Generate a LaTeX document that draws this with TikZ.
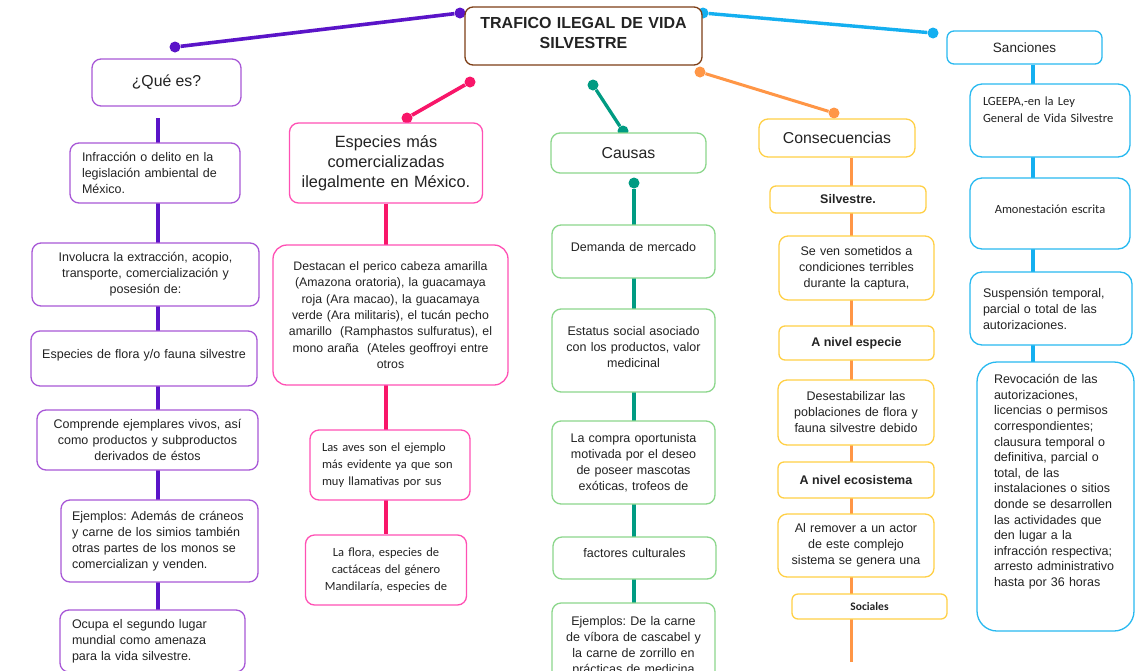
\documentclass[tikz,border=0pt]{standalone}
\usepackage{fontspec}
\setmainfont{Liberation Sans}
\newfontfamily\calib{Carlito}
\usetikzlibrary{backgrounds}
\frenchspacing
\definecolor{ink}{RGB}{35,35,35}
\definecolor{tbrown}{RGB}{125,62,22}
\definecolor{qline}{RGB}{90,20,200}
\definecolor{qborder}{RGB}{168,88,215}
\definecolor{pline}{RGB}{248,22,105}
\definecolor{pborder}{RGB}{255,80,180}
\definecolor{tline}{RGB}{0,155,130}
\definecolor{tborder}{RGB}{140,215,140}
\definecolor{oline}{RGB}{255,150,70}
\definecolor{oborder}{RGB}{255,208,70}
\definecolor{bline}{RGB}{20,175,240}
\definecolor{bborder}{RGB}{40,185,240}
\newcommand{\bodyfont}{\fontsize{12.5}{16}\selectfont}
\newcommand{\headfont}{\fontsize{15.8}{20}\selectfont}
\newcommand{\califont}{\calib\fontsize{12.5}{17}\selectfont}
\newcommand{\lift}[1]{\rule[-#1]{0pt}{#1}}
\tikzset{
    common/.style={draw, rounded corners=9pt, fill=white, line width=1.3pt, inner sep=0pt, align=center, text=ink, font=\bodyfont},
    qbox/.style={common, draw=qborder},
    pbox/.style={common, draw=pborder},
    tbox/.style={common, draw=tborder},
    obox/.style={common, draw=oborder},
    bbox/.style={common, draw=bborder},
    head/.style={font=\headfont},
    boldhead/.style={font=\bodyfont\bfseries},
    cali/.style={font=\califont},
    dot/.style={circle, fill, inner sep=0pt, minimum size=11pt},
    link/.style={line width=3.6pt},
}

\begin{document}
\begin{tikzpicture}[x=1pt, y=-1pt]
    \useasboundingbox (0,0) rectangle (1140,670);

    % title
    \node[common, draw=tbrown, rounded corners=8pt, minimum width=237pt, minimum height=58pt, text width=225pt,
          font=\fontsize{16}{20}\selectfont\bfseries] (title) at (583.5,36)
        {TRAFICO ILEGAL DE VIDA\\SILVESTRE\lift{7pt}};

    % que es
    \node[qbox, head, minimum width=149pt, minimum height=47pt] (qe) at (166.5,82.5) {¿Qué es?};
    \node[qbox, minimum width=170pt, minimum height=60pt, text width=146pt, align=left] (q1) at (155,173)
        {Infracción o delito en la\\legislación ambiental de\\México.};
    \node[qbox, minimum width=227pt, minimum height=63pt, text width=215pt] (q2) at (145.5,274.5)
        {Involucra la extracción, acopio,\\transporte, comercialización y\\posesión de:};
    \node[qbox, minimum width=226pt, minimum height=55pt, text width=215pt] (q3) at (144,358.5)
        {Especies de flora y/o fauna silvestre\lift{9pt}};
    \node[qbox, minimum width=221pt, minimum height=60pt, text width=210pt] (q4) at (147.5,440)
        {Comprende ejemplares vivos, así\\como productos y subproductos\\derivados de éstos};
    \node[qbox, minimum width=197pt, minimum height=82pt, text width=175pt, align=left] (q5) at (159.5,541)
        {Ejemplos: Además de cráneos\\y carne de los simios también\\otras partes de los monos se\\comercializan y venden.};
    \node[qbox, minimum width=185pt, minimum height=62pt, text width=161pt, align=left] (q6) at (152.5,641)
        {Ocupa el segundo lugar\\mundial como amenaza\\para la vida silvestre.};

    % especies
    \node[pbox, minimum width=193pt, minimum height=80pt, text width=185pt,
          font=\fontsize{16.3}{20}\selectfont] (sp) at (386,163)
        {Especies más\\comercializadas\\ilegalmente en México.};
    \node[pbox, rounded corners=14pt, minimum width=235pt, minimum height=140pt, text width=228pt,
          font=\fontsize{12.3}{16.4}\selectfont] (s1) at (390.5,315)
        {Destacan el perico cabeza amarilla\\(Amazona oratoria), la guacamaya\\roja (Ara macao), la guacamaya\\verde (Ara militaris), el tucán pecho\\amarillo~~(Ramphastos sulfuratus), el\\mono araña~~(Ateles geoffroyi entre\\otros};
    \node[pbox, cali, minimum width=160pt, minimum height=70pt, text width=136pt, align=left] (s2) at (390,465)
        {Las aves son el ejemplo\\más evidente ya que son\\muy llamativas por sus};
    \node[pbox, cali, minimum width=161pt, minimum height=70pt, text width=150pt] (s3) at (386,570)
        {La flora, especies de\\cactáceas del género\\Mandilaría, especies de};

    % causas
    \node[tbox, head, minimum width=155pt, minimum height=40pt] (ca) at (628.5,153) {Causas};
    \node[tbox, minimum width=163pt, minimum height=53pt, text width=155pt] (c1) at (633.5,251.5)
        {Demanda de mercado\lift{9pt}};
    \node[tbox, minimum width=163pt, minimum height=83pt, text width=155pt] (c2) at (633.5,350.5)
        {Estatus social asociado\\con los productos, valor\\medicinal\lift{8pt}};
    \node[tbox, minimum width=163pt, minimum height=83pt, text width=155pt] (c3) at (633.5,462.5)
        {La compra oportunista\\motivada por el deseo\\de poseer mascotas\\exóticas, trofeos de};
    \node[tbox, minimum width=163pt, minimum height=42pt, text width=155pt] (c4) at (634.5,558)
        {factores culturales\lift{10pt}};
    \node[tbox, minimum width=163pt, minimum height=87pt, text width=155pt] (c5) at (633.5,646.5)
        {Ejemplos: De la carne\\de víbora de cascabel y\\la carne de zorrillo en\\prácticas de medicina};

    % consecuencias
    \node[obox, head, minimum width=156pt, minimum height=38pt] (co) at (837,138) {Consecuencias};
    \node[obox, boldhead, rounded corners=6pt, minimum width=156pt, minimum height=27pt] (o1) at (848,199.5) {Silvestre.};
    \node[obox, minimum width=155pt, minimum height=64pt, text width=148pt] (o2) at (856.5,268)
        {Se ven sometidos a\\condiciones terribles\\durante la captura,};
    \node[obox, boldhead, rounded corners=6pt, minimum width=155pt, minimum height=34pt] (o3) at (856.5,343) {A nivel especie};
    \node[obox, minimum width=156pt, minimum height=65pt, text width=148pt] (o4) at (856,412.5)
        {Desestabilizar las\\poblaciones de flora y\\fauna silvestre debido};
    \node[obox, boldhead, rounded corners=6pt, minimum width=156pt, minimum height=36pt] (o5) at (856,480) {A nivel ecosistema};
    \node[obox, minimum width=156pt, minimum height=63pt, text width=148pt] (o6) at (856,545.5)
        {Al remover a un actor\\de este complejo\\sistema se genera una};
    \node[obox, rounded corners=6pt, minimum width=155pt, minimum height=25pt,
          font=\calib\fontsize{11.5}{14}\selectfont\bfseries] (o7) at (869.5,606.5) {Sociales};

    % sanciones
    \node[bbox, font=\fontsize{13.5}{16}\selectfont, rounded corners=7pt, minimum width=155pt, minimum height=33pt] (sa) at (1024.5,47.5) {Sanciones};
    \node[bbox, cali, rounded corners=12pt, minimum width=160pt, minimum height=73pt, text width=134pt, align=left] (b1) at (1050,120.5)
        {LGEEPA,-en la Ley\\General de Vida Silvestre\lift{22pt}};
    \node[bbox, cali, rounded corners=12pt, minimum width=160pt, minimum height=71pt, text width=150pt] (b2) at (1050,213.5)
        {Amonestación escrita\lift{9pt}};
    \node[bbox, rounded corners=12pt, minimum width=162pt, minimum height=73pt, text width=136pt, align=left] (b3) at (1051,308.5)
        {Suspensión temporal,\\parcial o total de las\\autorizaciones.};
    \node[bbox, rounded corners=20pt, minimum width=157pt, minimum height=269pt, text width=123pt, align=left,
          font=\fontsize{12.5}{15.6}\selectfont] (b4) at (1055.5,496.5)
        {Revocación de las\\autorizaciones,\\licencias o permisos\\correspondientes;\\clausura temporal o\\definitiva, parcial o\\total, de las\\instalaciones o sitios\\donde se desarrollen\\las actividades que\\den lugar a la\\infracción respectiva;\\arresto administrativo\\hasta por 36 horas\lift{32pt}};

    % connectors
    \begin{scope}[on background layer]
        \fill[white] (0,0) rectangle (1140,670);

        \node[dot, qline] (qd1) at (460,13) {};
        \node[dot, qline] (qd2) at (175,47) {};
        \draw[link, qline] (qd1) -- (qd2);
        \coordinate (qtop) at (158,118);
        \coordinate (qend) at (158,670);
        \draw[link, qline] (qtop) -- (qend);

        \node[dot, pline] (pd1) at (470,82) {};
        \node[dot, pline] (pd2) at (407,118) {};
        \draw[link, pline] (pd1) -- (pd2);
        \draw[link, pline] (sp.south) -- (s3.north);

        \node[dot, tline] (td1) at (593,85) {};
        \node[dot, tline] (td2) at (623,131) {};
        \draw[link, tline, line width=3.3pt] (td1) -- (td2);
        \node[dot, tline] (td3) at (634,183) {};
        \coordinate (tend) at (634,670);
        \draw[link, tline, line width=3.3pt] (td3) -- (tend);

        \node[dot, oline] (od1) at (700,72) {};
        \node[dot, oline] (od2) at (834,113) {};
        \draw[link, oline, line width=3pt] (od1) -- (od2);
        \coordinate (oend) at (851,662);
        \draw[link, oline, line width=3pt] (co.south -| oend) -- (oend);

        \node[dot, bline] (bd1) at (703,13) {};
        \node[dot, bline] (bd2) at (933,33) {};
        \draw[link, bline, line width=3.4pt] (bd1) -- (bd2);
        \coordinate (bend) at (1033,370);
        \draw[link, bline] (sa.south -| bend) -- (bend);
    \end{scope}
\end{tikzpicture}
\end{document}
